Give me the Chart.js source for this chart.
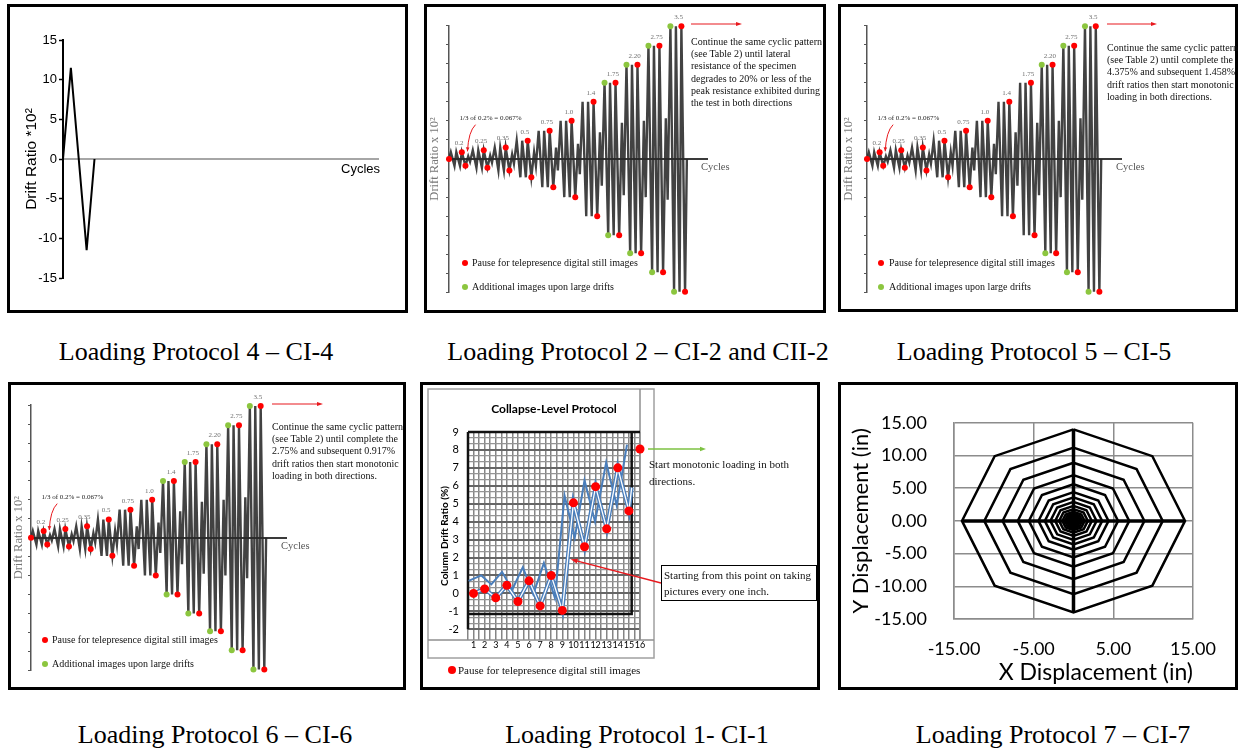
<!DOCTYPE html>
<html><head><meta charset="utf-8">
<script src="https://cdn.jsdelivr.net/npm/chart.js@4.4.1/dist/chart.umd.min.js"></script>
<style>
html,body{margin:0;padding:0;background:#fff;}
body{width:1238px;height:750px;position:relative;overflow:hidden;}
.panel{position:absolute;border:3px solid #000;box-sizing:border-box;}
canvas{position:absolute;}
.cap{position:absolute;font-family:'Liberation Serif',serif;font-size:26px;line-height:1;white-space:nowrap;transform:translate(-50%,-50%);color:#000;}
.ann{position:absolute;font-family:'Liberation Serif',serif;font-size:10px;line-height:12.2px;white-space:nowrap;color:#111;}
.ann5{position:absolute;font-family:'Liberation Serif',serif;font-size:11px;line-height:16.5px;white-space:nowrap;color:#111;}
.cyc{position:absolute;font-family:'Liberation Serif',serif;font-size:10.5px;line-height:12px;color:#555;white-space:nowrap;}
.dot{position:absolute;border-radius:50%;}
</style></head><body>

<div class="panel" style="left:7px;top:4px;width:401px;height:309px"></div>
<div class="panel" style="left:424px;top:4px;width:402px;height:309px"></div>
<div class="panel" style="left:838px;top:4px;width:400px;height:308px"></div>
<div class="panel" style="left:8px;top:382px;width:398px;height:308px"></div>
<div class="panel" style="left:420px;top:382px;width:400px;height:308px"></div>
<div class="panel" style="left:838px;top:382px;width:400px;height:308px"></div>

<canvas id="c4" width="395" height="303" style="left:10px;top:7px"></canvas>
<canvas id="c2" width="396" height="303" style="left:427px;top:7px"></canvas>
<canvas id="c5" width="394" height="302" style="left:841px;top:7px"></canvas>
<canvas id="c6" width="392" height="302" style="left:11px;top:385px"></canvas>
<canvas id="c1" width="394" height="302" style="left:423px;top:385px"></canvas>
<canvas id="c7" width="394" height="302" style="left:841px;top:385px"></canvas>

<!-- Panel 1 (Protocol 4) -->
<div style="position:absolute;left:341px;top:161px;font-family:'Liberation Sans',sans-serif;font-size:13px;line-height:16px;">Cycles</div>

<!-- Panel 2 (Protocol 2) -->
<div class="cyc" style="left:701px;top:161px">Cycles</div>
<div class="ann" style="left:691px;top:36px">Continue the same cyclic pattern<br>(see Table 2) until lateral<br>resistance of the specimen<br>degrades to 20% or less of the<br>peak resistance exhibited during<br>the test in both directions</div>
<div class="dot" style="left:462px;top:260px;width:6px;height:6px;background:#ff0000"></div>
<div class="ann" style="left:472px;top:257px">Pause for telepresence digital still images</div>
<div class="dot" style="left:462px;top:284px;width:6px;height:6px;background:#8cc63f"></div>
<div class="ann" style="left:472px;top:281px">Additional images upon large drifts</div>

<!-- Panel 3 (Protocol 5) -->
<div class="cyc" style="left:1116px;top:161px">Cycles</div>
<div class="ann" style="left:1107px;top:42px">Continue the same cyclic pattern<br>(see Table 2) until complete the<br>4.375% and subsequent 1.458%<br>drift ratios then start monotonic<br>loading in both directions.</div>
<div class="dot" style="left:878px;top:260px;width:6px;height:6px;background:#ff0000"></div>
<div class="ann" style="left:889px;top:257px">Pause for telepresence digital still images</div>
<div class="dot" style="left:878px;top:284px;width:6px;height:6px;background:#8cc63f"></div>
<div class="ann" style="left:889px;top:281px">Additional images upon large drifts</div>

<!-- Panel 4 (Protocol 6) -->
<div class="cyc" style="left:281px;top:540px">Cycles</div>
<div class="ann" style="left:272px;top:421px">Continue the same cyclic pattern<br>(see Table 2) until complete the<br>2.75% and subsequent 0.917%<br>drift ratios then start monotonic<br>loading in both directions.</div>
<div class="dot" style="left:42px;top:637px;width:6px;height:6px;background:#ff0000"></div>
<div class="ann" style="left:52px;top:634px">Pause for telepresence digital still images</div>
<div class="dot" style="left:42px;top:661px;width:6px;height:6px;background:#8cc63f"></div>
<div class="ann" style="left:52px;top:658px">Additional images upon large drifts</div>

<!-- Panel 5 (Protocol 1) -->
<div class="ann5" style="left:649px;top:456px">Start monotonic loading in both<br>directions.</div>
<div class="ann5" style="left:661px;top:565px;width:156px;height:36px;box-sizing:border-box;border:1.5px solid #000;padding:1px 0 0 2px;line-height:16px">Starting from this point on taking<br>pictures every one inch.</div>
<div class="dot" style="left:448px;top:666px;width:8px;height:8px;background:#ff0000"></div>
<div class="ann5" style="left:458px;top:662px">Pause for telepresence digital still images</div>

<!-- Captions -->
<div class="cap" style="left:196px;top:352px">Loading Protocol 4 – CI-4</div>
<div class="cap" style="left:638px;top:352px">Loading Protocol 2 – CI-2 and CII-2</div>
<div class="cap" style="left:1034px;top:352px">Loading Protocol 5 – CI-5</div>
<div class="cap" style="left:215px;top:735px">Loading Protocol 6 – CI-6</div>
<div class="cap" style="left:637px;top:735px">Loading Protocol 1- CI-1</div>
<div class="cap" style="left:1053px;top:735px">Loading Protocol 7 – CI-7</div>

<script>
// ================= DATA =================
// Protocol 4 (CI-4): single cycle
const p4Cycle = [0, 1, 3, 4];
const p4Drift = [0, 11.5, -11.5, 0];
const p4Ticks = [-15, -10, -5, 0, 5, 10, 15];

// Protocols 2, 5, 6: cyclic loading history (drift ratio x 10^2, as drawn)
const cycX = [0,
  1,3,4,6,7,9,10.5,11.5,
  13,15,16,18,19,21,22.5,23.5,
  25,27,28,30,31,33,34.5,35.5,
  37,39,40,42,43,45,46.5,47.5,
  49,51,52,54,55,57,58.5,59.5,
  61,63,64,66,67,69,70.5,71.5,
  73,75,76,78,79,81,82.5,83.5,
  85,87,88,90,91,93,94.5,95.5,
  97,99,100,102,103,105,106.5,107.5,
  109,111,112,114,115,117,118.5,119.5,
  121,123,124,126,127,129,130];
const cycY = [0,
  0.18,-0.18,0.18,-0.18,0.18,-0.18,0.07,-0.07,
  0.23,-0.23,0.23,-0.23,0.23,-0.23,0.09,-0.09,
  0.30,-0.30,0.30,-0.30,0.30,-0.30,0.12,-0.12,
  0.48,-0.48,0.48,-0.48,0.48,-0.48,0.18,-0.18,
  0.74,-0.74,0.74,-0.74,0.74,-0.74,0.30,-0.30,
  1.00,-1.00,1.00,-1.00,1.00,-1.00,0.40,-0.40,
  1.50,-1.50,1.50,-1.50,1.50,-1.50,0.70,-0.70,
  2.00,-2.00,2.00,-2.00,2.00,-2.00,0.95,-0.95,
  2.47,-2.47,2.47,-2.47,2.47,-2.47,1.00,-1.00,
  2.97,-2.97,2.97,-2.97,2.97,-2.97,1.07,-1.07,
  3.48,-3.48,3.48,-3.48,3.48,-3.48,0];
const levelLabels = ['0.2','0.25','0.35','0.5','0.75','1.0','1.4','1.75','2.20','2.75','3.5'];
const levelX = [7,19,31,43,55,67,79,91,103,115,127];
const levelY = [0.18,0.23,0.30,0.48,0.74,1.00,1.50,2.00,2.47,2.97,3.48];
const pauseX = [0, 7,9, 19,21, 31,33, 43,45, 55,57, 67,69, 79,81, 91,93, 103,105, 115,117, 127,129];
const pauseY = [0, 0.18,-0.18, 0.23,-0.23, 0.30,-0.30, 0.48,-0.48, 0.74,-0.74, 1.00,-1.00, 1.50,-1.50, 2.00,-2.00, 2.47,-2.47, 2.97,-2.97, 3.48,-3.48];
const extraX_P2 = [85,87, 97,99, 109,111, 121,123];
const extraY_P2 = [2.00,-2.00, 2.47,-2.47, 2.97,-2.97, 3.48,-3.48];
const extraX_P5 = [97,99, 109,111, 121,123];
const extraY_P5 = [2.47,-2.47, 2.97,-2.97, 3.48,-3.48];
const extraX_P6 = [73,75, 85,87, 97,99, 109,111, 121,123];
const extraY_P6 = [1.50,-1.50, 2.00,-2.00, 2.47,-2.47, 2.97,-2.97, 3.48,-3.48];
const noteText = '1/3 of 0.2% = 0.067%';

// Protocol 1 (CI-1): collapse-level protocol
const c1Categories = [1,2,3,4,5,6,7,8,9,10,11,12,13,14,15,16];
const c1Pause = [0,0.25,-0.25,0.45,-0.45,0.7,-0.7,1.0,-0.95,5.05,2.6,5.95,3.6,7.0,4.6,8.05];
const c1ThinX = [0.55,1.7,2.6,3.57,4.48,5.44,6.38,7.34,8.33,9.2,10.12,11.0,11.95,12.95,13.9,14.83];
const c1ThinY = [0.7,1.0,0.5,1.2,0.2,1.45,-0.05,1.7,-0.25,5.45,3.1,6.3,4.0,7.3,4.9,8.3];
const c1DoubleX = [1,2,3,4,5,6,7,8,9,10,11,12,13,14,15,15.25];
const c1DoubleY = [0,0.25,-0.25,0.45,-0.45,0.7,-0.7,1.0,-0.95,5.05,2.6,5.95,3.6,7.0,4.6,5.9];
const c1YTicks = [-2,-1,0,1,2,3,4,5,6,7,8,9];

// Protocol 7 (CI-7): octagonal orbits (in)
const ringRadius = [14, 11.2, 8.9, 7.0, 5.6, 4.4, 3.6, 2.9, 2.3, 1.8, 1.4, 1.1, 0.85, 0.6, 0.4];
const octU = [0, 0.707, 1, 0.707, 0, -0.707, -1, -0.707, 0];
const octV = [1, 0.707, 0, -0.707, -1, -0.707, 0, 0.707, 1];
const crossHX = [-14, 14], crossHY = [0, 0];
const crossVX = [0, 0], crossVY = [-14, 14];
const c7XTicks = [-15, -5, 5, 15];
const c7YTicks = [-15, -10, -5, 0, 5, 10, 15];

// ================= HELPERS =================
const pts = (xs, ys) => xs.map((x, i) => ({x, y: ys[i]}));
const base = {responsive:false, animation:false, devicePixelRatio:1, events:[],
  plugins:{legend:{display:false}, tooltip:{enabled:false}}};
function arrowHead(ctx, x1, y1, x2, y2, len, wid, color){
  const a = Math.atan2(y2-y1, x2-x1);
  ctx.fillStyle = color; ctx.beginPath(); ctx.moveTo(x2, y2);
  ctx.lineTo(x2-len*Math.cos(a)+wid*Math.sin(a), y2-len*Math.sin(a)-wid*Math.cos(a));
  ctx.lineTo(x2-len*Math.cos(a)-wid*Math.sin(a), y2-len*Math.sin(a)+wid*Math.cos(a));
  ctx.closePath(); ctx.fill();
}

// ================= PANEL: Protocol 4 =================
new Chart(document.getElementById('c4'), {
  type:'scatter',
  data:{datasets:[{data:pts(p4Cycle, p4Drift), showLine:true, borderColor:'#000', borderWidth:2, pointRadius:0}]},
  options:{...base, layout:{padding:{left:0,right:27,top:33,bottom:32}},
    scales:{
      x:{type:'linear', position:{y:0}, min:0, max:40, ticks:{display:false}, grid:{display:false}, border:{color:'#a6a6a6', width:2}},
      y:{type:'linear', min:-15, max:15,
        afterBuildTicks:s=>{s.ticks = p4Ticks.map(v=>({value:v}));},
        ticks:{font:{family:'Liberation Sans', size:13}, color:'#000', padding:2},
        grid:{drawOnChartArea:false, tickLength:4, color:'#000', tickWidth:1.5},
        border:{color:'#000', width:2},
        title:{display:true, text:'Drift Ratio *10²', font:{family:'Liberation Sans', size:15.5}, color:'#000', padding:{top:12,bottom:0}},
        afterFit:s=>{s.width = 53;}}
    }}
});

// ================= PANELS: cyclic protocols =================
const cyclicDecor = {
  id:'cyclicDecor',
  afterDatasetsDraw(chart, args, opts){
    const {ctx} = chart; const x = chart.scales.x, y = chart.scales.y;
    ctx.save();
    ctx.font = '7px "Liberation Serif"'; ctx.fillStyle = '#707070'; ctx.textAlign = 'center'; ctx.textBaseline = 'middle';
    levelLabels.forEach((t, i) => ctx.fillText(t, x.getPixelForValue(levelX[i]-1.5), y.getPixelForValue(levelY[i]) - 9));
    ctx.fillStyle = '#222'; ctx.textAlign = 'left';
    ctx.fillText(noteText, x.getPixelForValue(5.8), y.getPixelForValue(1.07));
    const sx = x.getPixelForValue(14.5), sy = y.getPixelForValue(0.9);
    const cx = x.getPixelForValue(10.6), cy = y.getPixelForValue(0.72);
    const tx = x.getPixelForValue(10.1), ty = y.getPixelForValue(0.2);
    ctx.strokeStyle = '#e8191e'; ctx.lineWidth = 1;
    ctx.beginPath(); ctx.moveTo(sx, sy); ctx.quadraticCurveTo(cx, cy, tx, ty); ctx.stroke();
    arrowHead(ctx, cx, cy, tx, ty, 4, 1.8, '#e8191e');
    const [ax1, ay, ax2] = opts.arrow;
    ctx.strokeStyle = '#e8191e'; ctx.lineWidth = 1.2;
    ctx.beginPath(); ctx.moveTo(ax1, ay); ctx.lineTo(ax2 - 4, ay); ctx.stroke();
    arrowHead(ctx, ax1, ay, ax2, ay, 6, 2, '#e8191e');
    ctx.restore();
  }
};
function cyclicChart(id, cfg){
  new Chart(document.getElementById(id), {
    type:'scatter',
    data:{datasets:[
      {data:pts(pauseX, pauseY), pointRadius:3, pointBackgroundColor:'#ff0000', pointBorderWidth:0, clip:false, order:0},
      {data:pts(cfg.gx, cfg.gy), pointRadius:3, pointBackgroundColor:'#8cc63f', pointBorderWidth:0, clip:false, order:1},
      {data:pts(cycX, cycY), showLine:true, borderColor:'rgba(40,40,40,0.88)', borderWidth:2.4, pointRadius:0, order:2}
    ]},
    options:{...base, plugins:{...base.plugins, cyclicDecor:{arrow:cfg.arrow}},
      layout:{padding:cfg.pad},
      scales:{
        x:{type:'linear', position:{y:0}, min:0, max:141, ticks:{display:false}, grid:{display:false}, border:{color:'#3a3a3a', width:2}},
        y:{type:'linear', min:-3.5, max:3.5, ticks:{display:false, stepSize:0.5},
          grid:{drawOnChartArea:false, tickLength:3, color:'#555', tickWidth:1.2},
          border:{color:'#555', width:1.5},
          title:{display:true, text:'Drift Ratio x 10²', font:{family:'Liberation Serif', size:12.5}, color:'#777', padding:{top:0,bottom:0}},
          afterFit:s=>{s.width = cfg.yw;}}
      }},
    plugins:[cyclicDecor]
  });
}
cyclicChart('c2', {gx:extraX_P2, gy:extraY_P2, yw:22, pad:{left:0,right:116,top:18.5,bottom:17.5}, arrow:[264,17,315]});
cyclicChart('c5', {gx:extraX_P5, gy:extraY_P5, yw:26, pad:{left:0,right:114,top:18.5,bottom:16.5}, arrow:[266,17,316]});
cyclicChart('c6', {gx:extraX_P6, gy:extraY_P6, yw:20, pad:{left:0,right:117,top:20.2,bottom:16.8}, arrow:[261,19,312]});

// ================= PANEL: Protocol 1 =================
const collapseDecor = {
  id:'collapseDecor',
  beforeDraw(chart){
    const {ctx} = chart;
    ctx.save(); ctx.strokeStyle = '#a0a0a0'; ctx.lineWidth = 1.5;
    ctx.strokeRect(5, 4, 226, 269); ctx.restore();
  },
  beforeDatasetsDraw(chart){
    const {ctx, chartArea:a} = chart; const x = chart.scales.x, y = chart.scales.y;
    ctx.save();
    ctx.strokeStyle = '#909090'; ctx.lineWidth = 1.5;
    ctx.beginPath(); ctx.moveTo(5, a.bottom); ctx.lineTo(231, a.bottom);
    ctx.moveTo(a.right, 4); ctx.lineTo(a.right, a.bottom); ctx.stroke();
    ctx.strokeStyle = '#111'; ctx.lineWidth = 2.5;
    const l = x.getPixelForValue(0.5), r = x.getPixelForValue(15.25);
    const t = y.getPixelForValue(9), b = y.getPixelForValue(-1.15);
    ctx.beginPath();
    ctx.moveTo(l, t); ctx.lineTo(a.right, t);
    ctx.moveTo(r, t); ctx.lineTo(r, b); ctx.lineTo(l, b);
    ctx.moveTo(l, t); ctx.lineTo(l, y.getPixelForValue(-2));
    ctx.stroke();
    ctx.restore();
  },
  afterDraw(chart){
    const {ctx} = chart; const x = chart.scales.x, y = chart.scales.y;
    ctx.save();
    ctx.strokeStyle = '#7dc242'; ctx.lineWidth = 1.3;
    ctx.beginPath(); ctx.moveTo(225, 64); ctx.lineTo(278, 64); ctx.stroke();
    arrowHead(ctx, 225, 64, 283, 64, 6, 2.2, '#7dc242');
    const tx = x.getPixelForValue(9.75), ty = y.getPixelForValue(1.9);
    ctx.strokeStyle = '#e8191e'; ctx.lineWidth = 1.3;
    ctx.beginPath(); ctx.moveTo(238, 198); ctx.lineTo(tx + 5, ty + 1.3); ctx.stroke();
    arrowHead(ctx, 238, 198, tx, ty, 7, 2.5, '#e8191e');
    ctx.restore();
  }
};
const thirds = []; for (let i = -6; i <= 27; i++) thirds.push(i/3);
const halves = []; for (let i = 1; i <= 32; i++) halves.push(i/2);
new Chart(document.getElementById('c1'), {
  type:'scatter',
  data:{datasets:[
    {data:pts(c1Categories, c1Pause), pointRadius:4.5, pointBackgroundColor:'#ff0000', pointBorderWidth:0, clip:false, order:0},
    {data:pts(c1DoubleX, c1DoubleY), showLine:true, borderColor:'#ffffff', borderWidth:1.3, pointRadius:0, order:1},
    {data:pts(c1DoubleX, c1DoubleY), showLine:true, borderColor:'#4a7ebb', borderWidth:4, pointRadius:0, order:2},
    {data:pts(c1ThinX, c1ThinY), showLine:true, borderColor:'#4a7ebb', borderWidth:2, pointRadius:0, order:3}
  ]},
  options:{...base,
    plugins:{...base.plugins, title:{display:true, fullSize:false, text:'Collapse-Level Protocol', color:'#000',
      font:{family:'Lato', size:12, weight:'bold'}, padding:{top:17, bottom:15.6}}},
    layout:{padding:{left:0,right:177,top:0,bottom:33}},
    scales:{
      x:{type:'linear', min:0.5, max:16,
        afterBuildTicks:s=>{s.ticks = halves.map(v=>({value:v}));},
        ticks:{autoSkip:false, maxRotation:0, padding:0, font:{family:'Lato', size:9}, color:'#000',
          callback:v=> c1Categories.includes(v) ? String(v) : ''},
        grid:{drawTicks:false, color:'#858585', lineWidth:1.5},
        border:{display:false},
        afterFit:s=>{s.height = 14;}},
      y:{type:'linear', min:-2.6, max:9,
        afterBuildTicks:s=>{s.ticks = thirds.map(v=>({value:v}));},
        ticks:{autoSkip:false, padding:9, font:{family:'Lato', size:11}, color:'#000',
          callback:v=>{ const r = Math.round(v); return (Math.abs(v-r) < 1e-6 && c1YTicks.includes(r)) ? String(r) : ''; }},
        grid:{drawTicks:false,
          color:c=>{ const v=c.tick.value; return Math.abs(v-Math.round(v))<1e-6 ? '#666' : '#959595'; },
          lineWidth:c=>{ const v=c.tick.value; return Math.abs(v-Math.round(v))<1e-6 ? 2 : 1.3; }},
        border:{display:false},
        title:{display:true, text:'Column Drift Ratio (%)', font:{family:'Lato', size:10, weight:'bold'}, color:'#000', padding:{top:16,bottom:0}},
        afterFit:s=>{s.width = 45;}}
    }},
  plugins:[collapseDecor]
});

// ================= PANEL: Protocol 7 =================
const octSets = ringRadius.map(r => ({data:pts(octU.map(u=>u*r), octV.map(v=>v*r)), showLine:true, borderColor:'#000', borderWidth:2.5, pointRadius:0}));
octSets.push({data:pts(crossHX, crossHY), showLine:true, borderColor:'#000', borderWidth:3.5, pointRadius:0});
octSets.push({data:pts(crossVX, crossVY), showLine:true, borderColor:'#000', borderWidth:3.5, pointRadius:0});
new Chart(document.getElementById('c7'), {
  type:'scatter',
  data:{datasets:octSets},
  options:{...base, layout:{padding:{left:0,right:37,top:21,bottom:0}},
    scales:{
      x:{type:'linear', min:-15, max:15,
        afterBuildTicks:s=>{s.ticks = c7XTicks.map(v=>({value:v}));},
        ticks:{padding:19, font:{family:'Lato', size:18}, color:'#000', callback:v=>Number(v).toFixed(2)},
        grid:{drawTicks:false, color:'#8c8c8c', lineWidth:1.5},
        border:{color:'#8c8c8c', width:1.5},
        title:{display:true, align:'end', text:'X Displacement (in)', font:{family:'Lato', size:23}, color:'#000', padding:{top:0,bottom:1}},
        afterFit:s=>{s.height = 68;}},
      y:{type:'linear', min:-15, max:15,
        afterBuildTicks:s=>{s.ticks = c7YTicks.map(v=>({value:v}));},
        ticks:{padding:27, font:{family:'Lato', size:18}, color:'#000', callback:v=>Number(v).toFixed(2)},
        grid:{drawTicks:false, color:'#8c8c8c', lineWidth:1.5},
        border:{color:'#8c8c8c', width:1.5},
        title:{display:true, text:'Y Displacement (in)', font:{family:'Lato', size:22}, color:'#000', padding:{top:7,bottom:0}},
        afterFit:s=>{s.width = 113;}}
    }}
});
</script>
</body></html>
